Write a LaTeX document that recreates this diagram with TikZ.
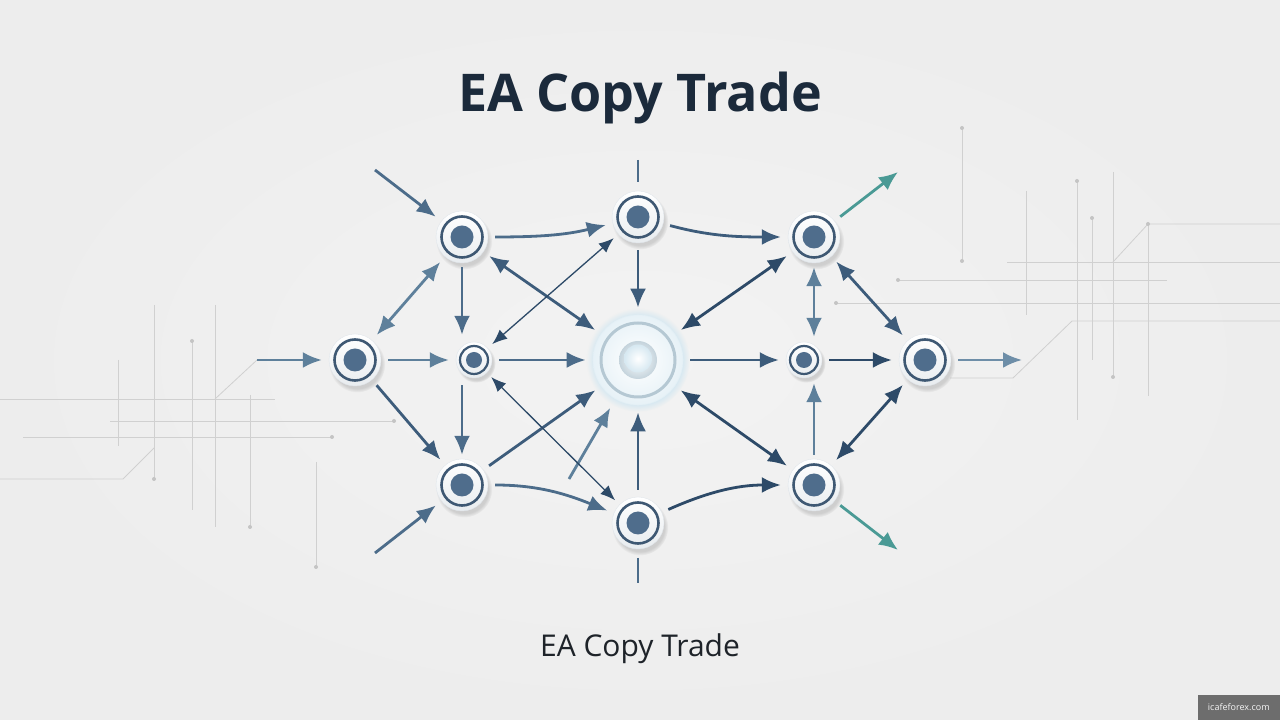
\documentclass[tikz,border=0pt]{standalone}
\usepackage{fontspec}
\setmainfont{Open Sans}
\usetikzlibrary{arrows.meta,shadows,calc}
\definecolor{bgout}{HTML}{EDEDED}
\definecolor{bgin}{HTML}{F3F3F3}
\definecolor{decoc}{HTML}{D0D0D0}
\definecolor{decodot}{HTML}{C4C4C4}
\definecolor{ringc}{HTML}{3E5873}
\definecolor{dotc}{HTML}{4F6D8C}
\definecolor{nodebot}{HTML}{E8ECEF}
\definecolor{nodeedge}{HTML}{E0E5EA}
\definecolor{cA}{HTML}{2D4A68}
\definecolor{cB}{HTML}{3D5C7B}
\definecolor{cC}{HTML}{4C6C8A}
\definecolor{cD}{HTML}{5E809B}
\definecolor{cE}{HTML}{6E8EA8}
\definecolor{teal}{HTML}{4A9A95}
\definecolor{titlec}{HTML}{1B2A3B}
\definecolor{subc}{HTML}{1E2329}
\definecolor{cring}{HTML}{B5C8D3}
\definecolor{cglow}{HTML}{D6E8F1}
\definecolor{wmc}{HTML}{6D6D6D}
\tikzset{
  nd/.style={circle, minimum size=52pt, inner sep=0pt, top color=white, bottom color=nodebot,
    draw=nodeedge, line width=0.4pt,
    circular drop shadow={shadow xshift=2pt, shadow yshift=-4pt, shadow scale=1.08, opacity=0.3},
    path picture={
      \fill[dotc] (path picture bounding box.center) circle (11.5pt);
      \draw[ringc, line width=2.6pt] (path picture bounding box.center) circle (20.5pt);}},
  nds/.style={circle, minimum size=36pt, inner sep=0pt, top color=white, bottom color=nodebot,
    draw=nodeedge, line width=0.4pt,
    circular drop shadow={shadow xshift=2pt, shadow yshift=-3pt, shadow scale=1.08, opacity=0.3},
    path picture={
      \fill[dotc] (path picture bounding box.center) circle (8pt);
      \draw[ringc, line width=2.2pt] (path picture bounding box.center) circle (14pt);}},
  ndc/.style={circle, minimum size=90pt, inner sep=0pt, inner color=white, outer color=cglow!60!white,
    draw=cglow!70!white, line width=0.6pt,
    circular glow={fill=cglow, shadow scale=1.15},
    path picture={
      \draw[cring, line width=3pt] (path picture bounding box.center) circle (37pt);
      \shade[inner color=white, outer color=cring!80!white] (path picture bounding box.center) circle (19pt);
      \shade[inner color=white, outer color=cglow] ($(path picture bounding box.center)+(0,1.5)$) circle (14pt);}},
  deco/.style={decoc, line width=0.8pt},
  arr/.style={line width=2.8pt, -{Latex[length=19pt,width=16pt]}, shorten >=7pt, shorten <=7pt},
  darr/.style={line width=2.8pt, {Latex[length=19pt,width=16pt]}-{Latex[length=19pt,width=16pt]}, shorten >=7pt, shorten <=7pt},
  tdarr/.style={line width=1.3pt, {Latex[length=15pt,width=12pt]}-{Latex[length=15pt,width=12pt]}, shorten >=6pt, shorten <=6pt},
  stub/.style={line width=2.4pt, cC}
}
\begin{document}
\begin{tikzpicture}[x=1pt,y=1pt]
\useasboundingbox (0,0) rectangle (1280,720);
\shade[inner color=bgin, outer color=bgout] (0,0) rectangle (1280,720);

% decorative lines left
\begin{scope}[deco]
\draw (154,415)--(154,241);
\draw (215,415)--(215,193);
\draw (192,379)--(192,210);
\draw (118,360)--(118,274);
\draw (250,325)--(250,193);
\draw (316,258)--(316,153);
\draw (0,321)--(275,321);
\draw (110,299)--(394,299);
\draw (23,283)--(332,283);
\draw (215,321)--(257,360);
\draw (0,241)--(123,241)--(154,272);
% right
\draw (962,592)--(962,459);
\draw (1026,529)--(1026,405);
\draw (1077,539)--(1077,300);
\draw (1092,502)--(1092,360);
\draw (1113,548)--(1113,343);
\draw (1148,496)--(1148,324);
\draw (1280,496)--(1148,496)--(1113,458);
\draw (1007,458)--(1280,458);
\draw (898,440)--(1167,440);
\draw (836,417)--(1280,417);
\draw (1280,399)--(1072,399)--(1013,342)--(950,342);
\end{scope}
\foreach \p in {(154,241),(192,379),(250,193),(316,153),(394,299),(332,283),
  (962,592),(962,459),(1077,539),(1092,502),(1113,343),(1148,496),(898,440),(836,417)}
  \fill[decodot] \p circle (2pt);

% nodes
\node[nd] (A) at (462,483) {};
\node[nd] (T) at (638,503) {};
\node[nd] (TR) at (814,483) {};
\node[nd] (L) at (355,360) {};
\node[nds] (ML) at (474,360) {};
\node[ndc] (C) at (638,360) {};
\node[nds] (MR) at (804,360) {};
\node[nd] (R) at (925,360) {};
\node[nd] (BL) at (462,235) {};
\node[nd] (B) at (638,197) {};
\node[nd] (BR) at (814,235) {};

% free ends
\coordinate (inA) at (375,550);
\coordinate (inBL) at (375,167);
\coordinate (inL) at (257,360);
\coordinate (outTR) at (898,548);
\coordinate (outBR) at (898,170);
\coordinate (outR) at (1022,360);
\coordinate (freeC) at (569,241);
\coordinate (topT1) at (638,560);
\coordinate (topT2) at (638,538);
\coordinate (botB1) at (638,162);
\coordinate (botB2) at (638,137);

% stubs
\draw[stub] (topT1) -- (topT2);
\draw[stub] (botB1) -- (botB2);

% incoming
\draw[arr, cC, shorten <=0pt] (inA) -- (A);
\draw[arr, cC, shorten <=0pt] (inBL) -- (BL);
\draw[arr, cD, shorten <=0pt] (inL) -- (L);
\draw[arr, cD, shorten <=0pt, shorten >=10pt] (freeC) -- (C);

% outgoing
\draw[arr, teal, shorten >=0pt] (TR) -- (outTR);
\draw[arr, teal, shorten >=0pt] (BR) -- (outBR);
\draw[arr, cE, shorten >=0pt] (R) -- (outR);

% left part
\draw[darr, cD] (A) -- (L);
\draw[arr, cC, shorten <=4pt] (A) -- (A |- ML.north);
\draw[darr, cB] (A) -- (C);
\draw[arr, cC] (A) to[out=0, in=194] (T);
\draw[tdarr, cA] (ML) -- (T);
\draw[arr, cD] (L) -- (ML);
\draw[arr, cC] (ML) -- (C);
\draw[arr, cB] (L) -- (BL);
\draw[arr, cC, shorten >=4pt] (BL |- ML.south) -- (BL);
\draw[arr, cB] (BL) -- (C);
\draw[tdarr, cA] (ML) -- (B);
\draw[arr, cC] (BL) to[out=0, in=158] (B);

% center column
\draw[arr, cB] (T) -- (C);
\draw[arr, cB] (B) -- (C);

% right part
\draw[arr, cB] (T) to[out=-15, in=180] (TR);
\draw[darr, cA] (TR) -- (C);
\draw[darr, cD, shorten >=5pt, shorten <=4pt] (TR) -- (TR |- MR.north);
\draw[darr, cB] (TR) -- (R);
\draw[arr, cB] (C) -- (MR);
\draw[arr, cA] (MR) -- (R);
\draw[arr, cA] (B) to[out=24, in=180] (BR);
\draw[darr, cA] (C) -- (BR);
\draw[arr, cD, shorten >=5pt, shorten <=4pt] (BR) -- (BR |- MR.south);
\draw[darr, cA] (BR) -- (R);

% texts
\node[font=\fontsize{52}{58}\selectfont\bfseries, text=titlec, anchor=base] (title) at (640,608) {EA Copy Trade};
\node[font=\fontsize{30}{34}\selectfont, text=subc, anchor=base] (sub) at (640,63) {EA Copy Trade};
\node[fill=wmc, text=white!92!gray, font=\fontsize{9}{10}\selectfont, minimum width=82pt, minimum height=25pt, inner sep=0pt, anchor=south east] (wm) at (1280,0) {icafeforex.com};
\end{tikzpicture}
\end{document}
